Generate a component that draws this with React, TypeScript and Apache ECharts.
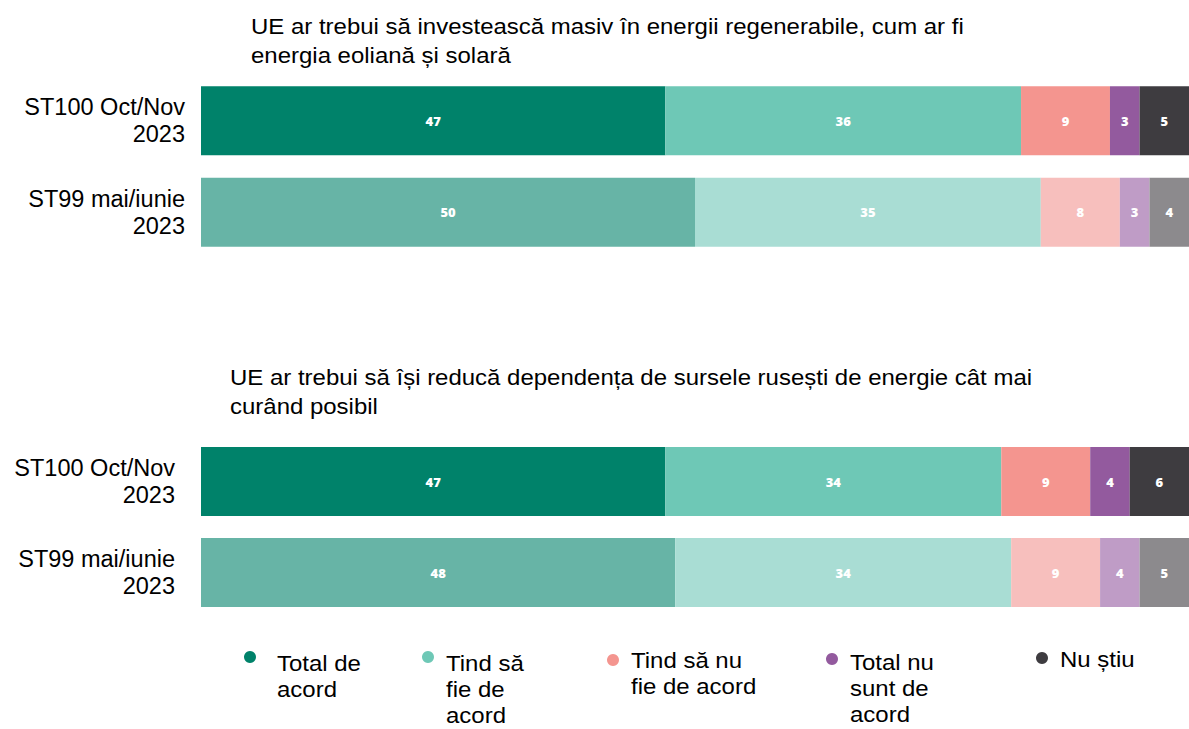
import React, { useEffect, useRef } from "react";
import * as echarts from "echarts";

const categories = ["ST100 Oct/Nov\n2023", "ST99 mai/iunie\n2023"];
const seriesNames = [
  "Total de acord",
  "Tind să fie de acord",
  "Tind să nu fie de acord",
  "Total nu sunt de acord",
  "Nu știu",
];
const legendLabels = [
  "Total de\nacord",
  "Tind să\nfie de\nacord",
  "Tind să nu\nfie de acord",
  "Total nu\nsunt de\nacord",
  "Nu știu",
];
const titles = [
  "UE ar trebui să investească masiv în energii regenerabile, cum ar fi\nenergia eoliană și solară",
  "UE ar trebui să își reducă dependența de sursele rusești de energie cât mai\ncurând posibil",
];
// values per answer, [ST100, ST99]
const renewST100 = [47, 36, 9, 3, 5];
const renewST99 = [50, 35, 8, 3, 4];
const russiaST100 = [47, 34, 9, 4, 6];
const russiaST99 = [48, 34, 9, 4, 5];

const colorsST100 = ["#00826A", "#6EC8B6", "#F4958F", "#935A9E", "#3E3C40"];
const colorsST99 = ["#67B4A6", "#A9DDD4", "#F7BFBD", "#BF9CC6", "#8C8A8D"];

const FONT = "Arial, 'Liberation Sans', sans-serif";

export default function App() {
  const ref = useRef<HTMLDivElement>(null);
  useEffect(() => {
    document.body.style.margin = "0";
    if (!ref.current) return;
    const chart = echarts.init(ref.current, undefined, { renderer: "svg" });

    const charts = [
      { a: renewST100, b: renewST99 },
      { a: russiaST100, b: russiaST99 },
    ];
    const series: any[] = [];
    charts.forEach((c, gi) => {
      seriesNames.forEach((name, i) => {
        series.push({
          type: "bar",
          name,
          xAxisIndex: gi,
          yAxisIndex: gi,
          stack: "s" + gi,
          barWidth: 69,
          data: [
            { value: c.a[i], itemStyle: { color: colorsST100[i] } },
            { value: c.b[i], itemStyle: { color: colorsST99[i] } },
          ],
          label: {
            show: true,
            position: "inside",
            color: "#ffffff",
            fontFamily: "'Open Sans', sans-serif",
            fontWeight: 800,
            fontSize: 13,
          },
        });
      });
    });

    const legendPos = [
      { dx: 250, dy: 657, tx: 277, ty: 650 },
      { dx: 428, dy: 657, tx: 446, ty: 650 },
      { dx: 613, dy: 660, tx: 631, ty: 647 },
      { dx: 832, dy: 659, tx: 850, ty: 649 },
      { dx: 1042, dy: 658, tx: 1060, ty: 646 },
    ];
    const SX = 1.09;
    const graphic: any[] = [];
    legendLabels.forEach((lbl, i) => {
      const p = legendPos[i];
      graphic.push({
        type: "circle",
        shape: { cx: p.dx, cy: p.dy, r: 6 },
        style: { fill: colorsST100[i] },
      });
      graphic.push({
        type: "text",
        x: p.tx,
        y: p.ty,
        scaleX: SX,
        style: {
          text: lbl,
          font: `22px ${FONT}`,
          fill: "#000",
          lineHeight: 26,
          textVerticalAlign: "top",
        },
      });
    });
    graphic.push({
      type: "text",
      x: 251,
      y: 12,
      scaleX: SX,
      style: { text: titles[0], font: `22px ${FONT}`, fill: "#000", lineHeight: 29 },
    });
    graphic.push({
      type: "text",
      x: 230,
      y: 363,
      scaleX: SX,
      style: { text: titles[1], font: `22px ${FONT}`, fill: "#000", lineHeight: 29 },
    });

    const yAxisCommon = (margin: number) => ({
      type: "category",
      data: categories,
      inverse: true,
      axisLine: { show: false },
      axisTick: { show: false },
      splitLine: { show: false },
      axisLabel: {
        margin,
        color: "#000",
        fontFamily: FONT,
        fontSize: 23.5,
        lineHeight: 27,
        align: "right",
      },
    });
    const xAxisCommon = {
      type: "value",
      min: 0,
      max: 100,
      show: false,
    };

    chart.setOption({
      animation: false,
      grid: [
        { left: 201, width: 988, top: 75, height: 183 },
        { left: 201, width: 988, top: 436, height: 182 },
      ],
      xAxis: [
        { ...xAxisCommon, gridIndex: 0 },
        { ...xAxisCommon, gridIndex: 1 },
      ],
      yAxis: [
        { ...yAxisCommon(16), gridIndex: 0 },
        { ...yAxisCommon(26), gridIndex: 1 },
      ],
      series,
      graphic,
    });
    return () => chart.dispose();
  }, []);
  return <div ref={ref} style={{ width: 1189, height: 729 }} />;
}
